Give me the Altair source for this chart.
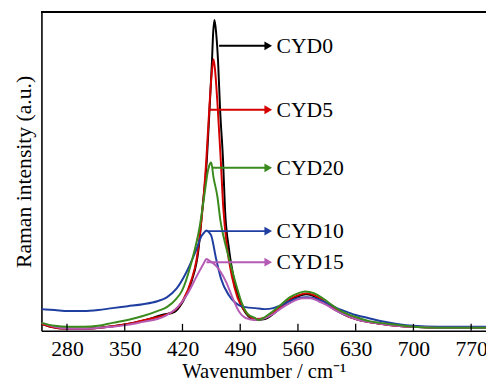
import altair as alt
import pandas as pd

series_names = ["CYD0", "CYD5", "CYD10", "CYD15", "CYD20"]
series_colors = ["#000000", "#d40000", "#1f3fa0", "#b55ab5", "#3a8a1e"]

cyd0_wn = [249, 260, 280, 300, 320, 340, 360, 380, 395, 410, 420, 431, 439.5, 444, 449.5, 452.8, 455.7, 457.2, 458.8, 460.8,
           463.2, 465.6, 469.2, 471.6, 476.4, 482.3, 488.3, 496.6, 508.5, 520, 530, 540, 550, 560, 570, 580, 590, 600, 610, 620,
           630, 645, 660, 680, 700, 730, 760, 788]
cyd0_i = [7, 4, 2, 2, 3, 5, 8, 12, 16, 19, 29, 50, 83, 123, 173, 225, 273, 303, 316, 303,
          273, 225, 173, 123, 83, 53, 33, 18, 11, 12, 17, 24, 31, 35, 37, 35, 30, 24, 19, 15,
          12, 9, 7, 5, 4, 3, 3, 3]

cyd5_wn = [249, 260, 280, 300, 320, 340, 360, 380, 395, 409.5, 420, 431, 437, 441, 445, 449, 452.8, 455.5, 457.6, 459.5,
           462.5, 466, 469.5, 474, 480, 487, 496.6, 508.5, 520, 530, 540, 550, 560, 570, 580, 590, 600, 610, 620, 630,
           645, 660, 680, 700, 730, 760, 788]
cyd5_i = [7, 4, 2, 2, 3, 5, 8, 12, 15, 20, 30, 52, 72, 97, 130, 175, 230, 262, 276, 265,
          230, 180, 125, 85, 55, 33, 19, 12, 13, 18, 25, 32, 36, 38, 36, 31, 25, 20, 15, 12,
          9, 7, 5, 4, 3, 3, 3]

cyd10_wn = [249, 265, 282, 300, 317.8, 335, 353.6, 372, 389.5, 401, 413, 425, 437, 442.9, 446.5, 448.9, 451.5, 454.8, 460.8, 466.7,
            476.3, 488.2, 496.6, 508.5, 520, 530, 540, 550, 560, 570, 580, 590, 600, 610, 620, 630, 645, 660, 680, 700,
            730, 760, 788]
cyd10_i = [22, 21, 20, 20, 21, 23, 25, 27, 30, 34, 43, 60, 83, 96, 100, 102, 100.5, 97, 73, 53,
           36, 26, 24, 23, 22, 23, 26, 30, 33, 34, 33, 30, 26, 22, 19, 16, 13, 10, 7, 5,
           4, 4, 4]

cyd15_wn = [249, 265, 282, 300, 317.8, 335, 353.6, 372, 389.5, 401, 413, 425, 437, 446, 448.9, 452, 460.8, 472.7, 481, 488.2,
            496.6, 508.5, 520.4, 530, 540, 550, 560, 566, 575, 585, 595, 605, 615, 630, 645, 660, 680, 700, 730, 760, 788]
cyd15_i = [8, 4, 2, 2, 3, 4, 6, 9, 12, 16, 23, 36, 55, 69, 73, 71.5, 66, 50, 33, 20,
           13, 11, 13, 17, 23, 28, 32, 33, 33, 30, 26, 21, 17, 12, 9, 7, 5, 4, 3, 3, 3]

cyd20_wn = [249, 265, 282, 300, 317.8, 335, 353.6, 372, 389.5, 401, 413, 419, 431, 440.9, 446.9, 450.9, 453.5, 454.8, 457.6, 462.4,
            466, 470, 475, 480, 486, 492, 499, 507.7, 512, 520, 530, 540, 550, 560, 568.5, 580, 590, 600, 610, 620,
            630, 645, 660, 680, 700, 730, 760, 788]
cyd20_i = [8, 5, 4, 4, 5, 8, 11, 15, 20, 24, 33, 40, 70, 106, 140, 163, 170, 171, 156, 136,
           112, 95, 78, 62, 44, 28, 17, 13, 11, 14, 20, 27, 34, 38, 40, 38, 33, 27, 21, 17,
           14, 10, 8, 6, 4, 3, 3, 3]

x_ticks = [280, 350, 420, 490, 560, 630, 700, 770]

ann_labels = ["CYD0", "CYD5", "CYD20", "CYD10", "CYD15"]
ann_y = [289.7, 224.7, 165.7, 101.3, 69.7]
ann_x0 = [464.4, 452.8, 456.0, 449.0, 449.0]
ann_tip = 524.0
ann_text_x = 534.0

W, H = 452, 324
FONT = "Liberation Serif"
FS = 22

series_wn = [cyd0_wn, cyd5_wn, cyd10_wn, cyd15_wn, cyd20_wn]
series_i = [cyd0_i, cyd5_i, cyd10_i, cyd15_i, cyd20_i]
rows = []
for k, (name, wns, ints) in enumerate(zip(series_names, series_wn, series_i)):
    for j, (w, v) in enumerate(zip(wns, ints)):
        rows.append({"series": name, "wn": w, "I": v, "k": k, "j": j})
df = pd.DataFrame(rows)

ann = pd.DataFrame({"label": ann_labels, "y": ann_y, "x0": ann_x0,
                    "tip": [ann_tip] * len(ann_labels), "tx": [ann_text_x] * len(ann_labels)})
ticks_df = pd.DataFrame({"t": x_ticks})

xs = alt.Scale(domain=[249, 788], nice=False, zero=False)
ys = alt.Scale(domain=[0, 324], nice=False, zero=False)
cs = alt.Scale(domain=series_names, range=series_colors)

lines = alt.Chart(df).mark_line(strokeWidth=2, interpolate="monotone", clip=True).encode(
    x=alt.X("wn:Q", scale=xs, axis=alt.Axis(values=x_ticks, ticks=False, domain=True, domainColor="black",
                                            domainWidth=1.6, grid=False,
                                            labelFont=FONT, labelFontSize=FS, labelColor="black",
                                            labelPadding=8, title="Wavenumber / cm⁻¹",
                                            titleFont=FONT, titleFontSize=21, titleFontWeight="normal",
                                            titleColor="black", titlePadding=2)),
    y=alt.Y("I:Q", scale=ys, axis=alt.Axis(labels=False, ticks=False, domain=True, domainColor="black",
                                           domainWidth=1.6, grid=False,
                                           title="Raman intensity (a.u.)", titleFont=FONT,
                                           titleFontSize=FS, titleFontWeight="normal",
                                           titleColor="black", titlePadding=6)),
    color=alt.Color("series:N", scale=cs, legend=None),
    detail="k:N",
    order="j:Q",
)

top_line = alt.Chart(ticks_df).mark_rule(color="black", strokeWidth=1.6).encode(
    x=alt.value(0), x2=alt.value(W + 2), y=alt.value(0)
)

tick_rules = alt.Chart(ticks_df).mark_rule(color="black", strokeWidth=1.3).encode(
    x=alt.X("t:Q", scale=xs),
    y=alt.value(H),
    y2=alt.value(H - 7),
)

arrow_lines = alt.Chart(ann).mark_rule(strokeWidth=2).encode(
    x=alt.X("x0:Q", scale=xs),
    x2="tip:Q",
    y=alt.Y("y:Q", scale=ys),
    color=alt.Color("label:N", scale=cs, legend=None),
)

arrow_heads = alt.Chart(ann).mark_point(shape="triangle-right", size=80, filled=True, opacity=1).encode(
    x=alt.X("tip:Q", scale=xs),
    y=alt.Y("y:Q", scale=ys),
    color=alt.Color("label:N", scale=cs, legend=None),
)

labels = alt.Chart(ann).mark_text(align="left", baseline="middle", font=FONT, fontSize=FS, color="black").encode(
    x=alt.X("tx:Q", scale=xs),
    y=alt.Y("y:Q", scale=ys),
    text="label:N",
)

chart = alt.layer(lines, top_line, tick_rules, arrow_lines, arrow_heads, labels).properties(
    width=W, height=H,
    autosize=alt.AutoSizeParams(type="none"),
    padding={"left": 34, "top": 1, "right": 0, "bottom": 52},
).configure_view(stroke=None)

chart.save("out.html", embed_options={"renderer": "svg", "actions": False})
